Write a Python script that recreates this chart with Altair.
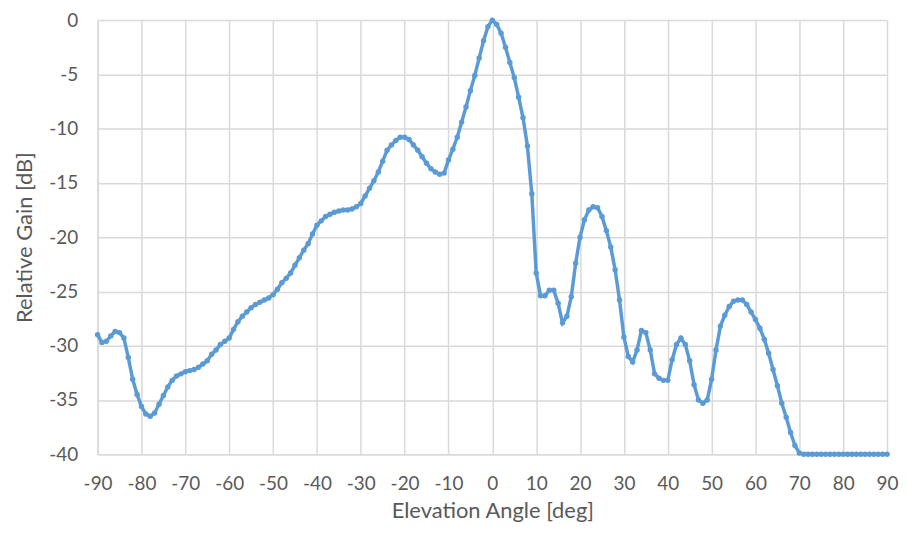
import altair as alt
import pandas as pd

angles = list(range(-90, 91))
gain = [
    -29.0, -29.7, -29.6, -29.1, -28.7, -28.8, -29.3, -31.1, -33.1, -34.5,
    -35.6, -36.3, -36.5, -36.2, -35.4, -34.6, -33.8, -33.2, -32.8, -32.6,
    -32.4, -32.3, -32.2, -32.0, -31.7, -31.4, -30.8, -30.4, -29.9, -29.6,
    -29.3, -28.5, -27.8, -27.3, -26.9, -26.5, -26.2, -26.0, -25.8, -25.6,
    -25.3, -24.8, -24.2, -23.8, -23.3, -22.6, -21.9, -21.2, -20.6, -19.7,
    -18.9, -18.5, -18.1, -17.9, -17.7, -17.6, -17.5, -17.5, -17.4, -17.2,
    -16.9, -16.2, -15.5, -14.8, -14.0, -13.0, -12.0, -11.5, -11.1, -10.8,
    -10.8, -11.0, -11.5, -12.0, -12.6, -13.2, -13.7, -14.0, -14.2, -14.1,
    -12.9, -11.9, -10.8, -9.4, -8.0, -6.5, -5.1, -3.5, -1.9, -0.6,
    0.0, -0.4, -1.2, -2.5, -3.9, -5.3, -7.1, -9.0, -11.6, -16.0,
    -23.3, -25.4, -25.4, -24.9, -24.9, -26.1, -27.9, -27.3, -25.5, -22.4,
    -20.0, -18.4, -17.5, -17.2, -17.3, -18.1, -19.4, -20.9, -23.0, -25.8,
    -29.2, -31.0, -31.5, -30.4, -28.6, -28.8, -30.4, -32.6, -33.0, -33.2,
    -33.2, -31.3, -29.9, -29.3, -29.9, -31.4, -33.6, -35.0, -35.3, -35.0,
    -33.1, -30.4, -28.2, -27.2, -26.4, -25.9, -25.8, -25.8, -26.2, -26.9,
    -27.6, -28.4, -29.4, -30.7, -32.2, -33.7, -35.3, -36.6, -38.0, -39.2,
    -39.9, -40.0, -40.0, -40.0, -40.0, -40.0, -40.0, -40.0, -40.0, -40.0,
    -40.0, -40.0, -40.0, -40.0, -40.0, -40.0, -40.0, -40.0, -40.0, -40.0,
    -40.0,
]
x_ticks = list(range(-90, 91, 10))
y_ticks = list(range(-40, 1, 5))

df = pd.DataFrame({"angle": angles, "gain": gain})

FONT = "Lato"
GREY = "#595959"
GRID = "#D9D9D9"
BLUE = "#5B9BD5"

x_enc = alt.X(
    "angle:Q",
    scale=alt.Scale(domain=[-90, 90], nice=False),
    axis=alt.Axis(
        values=x_ticks, title="Elevation Angle [deg]", grid=True,
        ticks=False, labelPadding=21, titlePadding=7, labelFlush=False,
        labelOverlap=False, labelExpr="'' + datum.value",
    ),
)
y_enc = alt.Y(
    "gain:Q",
    scale=alt.Scale(domain=[-40, 0], nice=False),
    axis=alt.Axis(
        values=y_ticks, title="Relative Gain [dB]", grid=True,
        ticks=False, labelPadding=20, titlePadding=12, labelFlush=False,
        labelOverlap=False, labelExpr="'' + datum.value",
    ),
)

line = alt.Chart(df).mark_line(color=BLUE, strokeWidth=3.5).encode(x=x_enc, y=y_enc)
pts = alt.Chart(df).mark_point(filled=True, color=BLUE, size=30, opacity=1).encode(
    x="angle:Q", y="gain:Q"
)

chart = (
    alt.layer(line, pts)
    .properties(
        width=793, height=436,
        autosize=alt.AutoSizeParams(type="none"),
        padding={"left": 90, "top": 11, "right": 12, "bottom": 70},
        background="white",
    )
    .configure_view(stroke=None)
    .configure_axis(
        domainColor=GRID, domainWidth=1.5, gridColor=GRID, gridWidth=1.5,
        labelFont=FONT, labelFontSize=19, labelColor=GREY,
        titleFont=FONT, titleFontSize=22, titleColor=GREY, titleFontWeight="normal",
    )
)

chart.save("out.html", embed_options={"renderer": "svg", "actions": False})
